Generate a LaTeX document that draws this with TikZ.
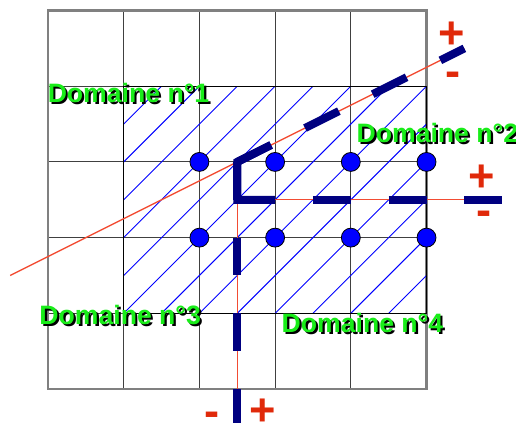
\documentclass[tikz,border=0pt]{standalone}
\usepackage{fontspec}
\setmainfont{Liberation Sans}
\definecolor{navyline}{rgb}{0,0,0.5}
\definecolor{cutred}{rgb}{0.95,0.3,0.2}
\definecolor{signred}{rgb}{0.88,0.16,0.04}
\definecolor{domgreen}{rgb}{0.1,0.93,0.1}
\newcommand\domaine[3]{%
  \node[domtext,black,xshift=0.8pt,yshift=-0.8pt] at (#2) {#3};
  \node[domtext,domgreen] (#1) at (#2) {#3};}

\begin{document}
\begin{tikzpicture}[x=1cm,y=1cm,line width=0.4pt,
  cutline/.style={cutred,line width=0.5pt},
  interface/.style={navyline,line width=3pt,dash pattern=on 0.5cm off 0.5cm},
  dof/.style={circle,fill=blue,draw=black,line width=0.3pt,inner sep=0pt,minimum size=0.25cm},
  sign/.style={signred,font=\fontsize{17}{17}\selectfont\bfseries,inner sep=0pt},
  domtext/.style={anchor=west,inner sep=0pt,font=\fontsize{10}{10}\selectfont\bfseries}]
  \useasboundingbox (-0.634,-0.449) rectangle (6.182,5.139);
  % maillage
  \draw[black!75] (0,0) grid (5,5);
  \draw[black!50,line width=1pt] (0,0) rectangle (5,5);
  % zone hachuree
  \begin{scope}
    \clip (1,1) rectangle (5,4);
    \foreach \c in {-3,-2.5,...,4}{
      \draw[blue,line width=0.35pt] (\c-1,-1) -- (\c+6,6);}
  \end{scope}
  \draw[black] (1,1) rectangle (5,4);
  % interfaces
  \coordinate (C) at (2.5,3);
  \coordinate (K) at (2.5,2.5);
  \coordinate (slantA) at (-0.5,1.5);
  \coordinate (slantB) at (5.5,4.5);
  \coordinate (horizB) at (6,2.5);
  \coordinate (vertB) at (2.5,-0.45);
  \coordinate (slantD) at (2.947,3.224);
  \coordinate (horizD) at (3,2.5);
  \draw[cutline] (slantA) -- (slantB);
  \draw[cutline] (C) -- (vertB);
  \draw[cutline] (K) -- (horizB);
  \draw[interface] (C) -- (slantB);
  \draw[interface] (C) -- (vertB);
  \draw[interface] (K) -- (horizB);
  \draw[navyline,line width=3pt,miter limit=4] (slantD) -- (C) -- (K) -- (horizD);
  % noeuds d'interface
  \foreach \i in {2,3,4,5}{
    \node[dof] (top\i) at (\i,3) {};
    \node[dof] (bot\i) at (\i,2) {};}
  % signes
  \node[sign] (pA) at (5.337,4.67) {+};
  \node[sign] (mA) at (5.35,4.09) {-};
  \node[sign] (pB) at (5.733,2.78) {+};
  \node[sign] (mB) at (5.76,2.26) {-};
  \node[sign] (mC) at (2.167,-0.40) {-};
  \node[sign] (pC) at (2.84,-0.31) {+};
  % sous-domaines
  \domaine{dom1}{-0.01,3.91}{Domaine n°1}
  \domaine{dom2}{4.07,3.38}{Domaine n°2}
  \domaine{dom3}{-0.12,0.98}{Domaine n°3}
  \domaine{dom4}{3.08,0.87}{Domaine n°4}
\end{tikzpicture}
\end{document}
